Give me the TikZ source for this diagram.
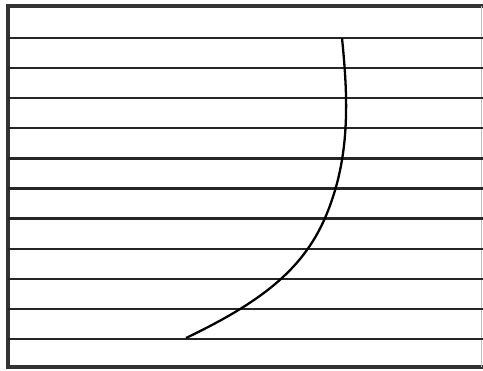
\documentclass[tikz,border=0pt]{standalone}
\begin{document}
\begin{tikzpicture}[x=0.02cm,y=-0.02cm,
  rule/.style={line width=1.3pt,black!85},
  frame/.style={line width=1.8pt,black!80},
  curve/.style={line width=1.3pt,black}]
\useasboundingbox (0,0) rectangle (483,371);
\fill[white] (0,0) rectangle (483,371);
% frame
\draw[frame] (483,6) -- (8,6) -- (8,367) -- (483,367);
\draw[line width=0.5pt,black!25] (481,6) -- (481,367);
% horizontal rules
\foreach \y in {38,68.1,98.2,128.3,158.4,188.5,218.6,248.7,278.8,308.9,339}
  \draw[rule] (8,\y) -- (483,\y);
% curve
\coordinate (cb) at (186,338);
\coordinate (cm) at (325,218);
\coordinate (ct) at (342,38);
\draw[curve] (cb) .. controls (259,303) and (302,271) .. (cm)
  .. controls (351,158) and (348,98) .. (ct);
\end{tikzpicture}
\end{document}
